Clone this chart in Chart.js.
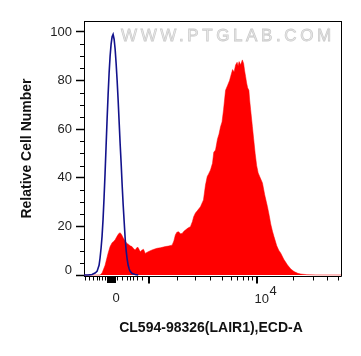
<!DOCTYPE html>
<html><head><meta charset="utf-8">
<script src="https://cdn.jsdelivr.net/npm/chart.js@4/dist/chart.umd.min.js"></script>
<style>html,body{margin:0;padding:0;background:#fff;}#wrap{width:361px;height:356px;}</style>
</head><body><div id="wrap"><canvas id="c" width="361" height="356"></canvas></div>
<script>
// Channel positions (display scale 0-1024) and relative cell numbers
const redX = [0,64,72,84,96,104,112,117,124,131,138,144,150,157,164,171,178,184,191,198,204,210,215,220,224,230,237,242,244,252,264,276,291,304,316,324,336,351,358,364,370,377,384,391,398,404,414,424,432,437,444,452,464,476,484,491,496,504,512,517,524,532,538,544,550,556,564,572,580,584,592,598,604,610,614,618,624,631,636,640,644,648,652,657,660,664,671,676,682,688,694,700,711,720,731,738,744,751,757,768,776,784,796,811,824,837,852,864,888,924,1024];
const redY = [0,0,0.8,4,9,11.7,13.3,13.7,14.5,15.8,17,17.4,16.6,15.1,14,13,12.6,12,11.7,10.8,10.3,11.2,11.4,10.4,9.6,10.2,10.6,9.4,8.9,9.4,10,10.5,11,11.2,11.5,11.7,11.9,12.3,14,16.5,17.6,17.8,17,17.1,18,18.5,19.3,19.9,22,24,25.5,26.5,28.1,30.9,37,40.5,41.5,43.2,46,50.5,51.4,56,58,61,63,68,76,78,80,81.6,84.5,83.5,86.4,87.5,86,87.8,86.5,88.5,87,84,81.6,79,77,76,72,68,61,56,50,45,42,40.5,37.9,33,28.1,24.5,21,18,15.8,12,10.2,9,6.5,4.1,2.5,1.4,0.7,0.4,0.15,0.05,0.02];
const blueX = [0,16,32,44,52,60,64,68,72,76,80,84,88,92,96,100,104,108,112,116,120,124,128,132,136,140,144,148,152,156,160,164,168,172,176,180,184,192,204,216];
const blueY = [0,0,0.2,0.8,1.5,4,7,11,16,23,32,42,53,64,74,83,90,95,98,99,97,93,87,80,72,63,54,46,37,29,22,15,10,6.5,4,2.5,1.5,0.6,0.2,0];

const yTicks = [0,20,40,60,80,100];
const yMinorTicks = [5,10,15,25,30,35,45,50,55,65,70,75,85,90,95];
const xMajorTicks = [257,688];
const xDenseTicks = [92,96,100,104,108,112,116,120,124];
const xMinorTicks = [4,21,37,51,61,72,84,133,151,171,184,197,213,231,371,444,504,551,584,611,632,652,668,831,911,968,1011];
const xLabelValues = [128,688];
const xLabelBase = ['0','10'];
const xLabelSup = ['','4'];
const xTitle = 'CL594-98326(LAIR1),ECD-A';
const yTitle = 'Relative Cell Number';
const watermark = 'WWW.PTGLAB.COM';

const FAM = '"Liberation Sans", Arial, sans-serif';

const decor = {
  id: 'decor',
  beforeDatasetsDraw(chart) {
    const {ctx} = chart;
    ctx.save();
    ctx.font = '17px ' + FAM;
    try { ctx.letterSpacing = '3.6px'; } catch(e) {}
    ctx.textAlign = 'left';
    ctx.textBaseline = 'middle';
    ctx.fillStyle = '#eeeeee';
    ctx.strokeStyle = '#cccccc';
    ctx.lineWidth = 0.8;
    ctx.fillText(watermark, 121, 36);
    ctx.strokeText(watermark, 121, 36);
    ctx.restore();
  },
  afterDraw(chart) {
    const {ctx, chartArea: a, scales: {x, y}} = chart;
    ctx.save();
    ctx.strokeStyle = '#000';
    ctx.lineWidth = 1;
    ctx.beginPath();
    ctx.moveTo(a.left, a.top + 0.5); ctx.lineTo(a.right + 0.5, a.top + 0.5);
    ctx.moveTo(a.right + 0.5, a.top); ctx.lineTo(a.right + 0.5, a.bottom + 0.5);
    ctx.moveTo(a.left, a.bottom + 0.5); ctx.lineTo(a.right + 0.5, a.bottom + 0.5);
    const tick = (v, len) => {
      const px = Math.round(x.getPixelForValue(v)) + 0.5;
      ctx.moveTo(px, a.bottom); ctx.lineTo(px, a.bottom + len);
    };
    xMinorTicks.forEach(v => tick(v, 4.5));
    xDenseTicks.forEach(v => tick(v, 7));
    ctx.stroke();
    ctx.beginPath();
    ctx.lineWidth = 2;
    xMajorTicks.forEach(v => {
      const px = Math.round(x.getPixelForValue(v));
      ctx.moveTo(px, a.bottom); ctx.lineTo(px, a.bottom + 7.5);
    });
    ctx.stroke();
    ctx.beginPath();
    ctx.lineWidth = 1;
    yMinorTicks.forEach(v => {
      const py = Math.round(y.getPixelForValue(v)) + 0.5;
      ctx.moveTo(a.left - 4, py); ctx.lineTo(a.left, py);
    });
    ctx.stroke();
    // raised "0" label on the y axis
    ctx.fillStyle = '#222';
    ctx.font = '13px ' + FAM;
    ctx.textBaseline = 'middle';
    ctx.textAlign = 'right';
    ctx.fillText(String(yTicks[0]), a.left - 12, y.getPixelForValue(yTicks[0]) - 5);
    // x labels
    xLabelValues.forEach((v, i) => {
      const px = x.getPixelForValue(v);
      const base = xLabelBase[i], sup = xLabelSup[i];
      if (!sup) {
        ctx.textAlign = 'center';
        ctx.fillText(base, px, a.bottom + 22);
      } else {
        const w = ctx.measureText(base).width;
        const cx = px + 5;
        ctx.textAlign = 'center';
        ctx.fillText(base, cx, a.bottom + 23);
        ctx.textAlign = 'left';
        ctx.fillText(sup, cx + w / 2 + 0.5, a.bottom + 15.5);
      }
    });
    // x title
    ctx.fillStyle = '#111';
    ctx.font = 'bold 14px ' + FAM;
    ctx.textAlign = 'center';
    ctx.fillText(xTitle, 211, 328);
    ctx.restore();
  }
};

new Chart(document.getElementById('c'), {
  type: 'line',
  data: {
    datasets: [
      {
        label: 'Control',
        data: blueX.map((v, i) => ({x: v, y: blueY[i]})),
        borderColor: '#12128c',
        borderWidth: 1.6,
        pointRadius: 0,
        fill: false,
        tension: 0
      },
      {
        label: 'LAIR1',
        data: redX.map((v, i) => ({x: v, y: redY[i]})),
        borderColor: '#ff0000',
        borderWidth: 0.5,
        backgroundColor: '#ff0000',
        pointRadius: 0,
        fill: 'origin',
        tension: 0
      }
    ]
  },
  options: {
    responsive: false,
    animation: false,
    devicePixelRatio: 1,
    layout: {padding: {left: 0, right: 20, top: 21, bottom: 80}},
    plugins: {legend: {display: false}, tooltip: {enabled: false}},
    scales: {
      x: {type: 'linear', min: 0, max: 1024, display: false},
      y: {
        type: 'linear', min: -0.4, max: 104.5,
        afterBuildTicks: s => { s.ticks = yTicks.map(v => ({value: v})); },
        afterFit: s => { s.width = 84; },
        grid: {drawOnChartArea: false, drawTicks: true, tickLength: 8, color: '#000', tickColor: '#000', tickWidth: 1.5},
        border: {display: true, color: '#000', width: 1},
        ticks: {font: {size: 13, family: FAM}, color: '#222', padding: 4, callback: v => (v === yTicks[0] ? '' : String(v))},
        title: {display: true, text: yTitle, font: {size: 14, weight: 'bold', family: FAM}, color: '#111', padding: {top: 19, bottom: 0}}
      }
    }
  },
  plugins: [decor]
});
</script>
</body></html>
